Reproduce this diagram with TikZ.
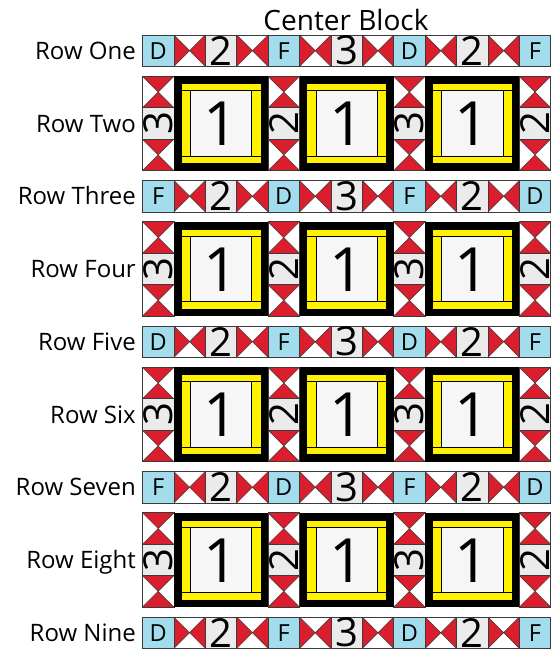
\documentclass[tikz,border=0pt]{standalone}
\usepackage{fontspec}
\setmainfont{Open Sans}
\usepackage{tikz}
\usetikzlibrary{positioning}
\definecolor{qblue}{HTML}{A3DCEC}
\definecolor{qred}{HTML}{DA1E2E}
\definecolor{qgray}{HTML}{EBEBEB}
\definecolor{qpale}{HTML}{F6F6F6}
\definecolor{qyellow}{HTML}{FFF200}
\definecolor{qline}{HTML}{3A3A3A}
\newcommand{\qcell}{31.4}

\tikzset{
  cellline/.style={draw=qline, line width=0.8pt},
  lettercell/.pic={
    \fill[qblue] (0,0) rectangle (\qcell,\qcell);
    \draw[cellline] (0,0) rectangle (\qcell,\qcell);
    \node[font=\fontsize{23.5}{24}\selectfont, inner sep=0pt] (-t) at (\qcell/2,\qcell/2) {#1};
  },
  hdigit/.pic={
    \filldraw[fill=qgray, cellline] (0,0) rectangle (\qcell,\qcell);
    \node[font=\fontsize{40}{40}\selectfont, inner sep=0pt] (-t) at (\qcell/2,\qcell/2) {#1};
  },
  vdigit/.pic={
    \filldraw[fill=qgray, cellline] (0,0) rectangle (\qcell,\qcell);
    \node[font=\fontsize{40}{40}\selectfont, inner sep=0pt, rotate=90] (-t) at (\qcell/2,\qcell/2) {#1};
  },
  hglass/.pic={
    \fill[white] (0,0) rectangle (\qcell,\qcell);
    \fill[qred] (0,0) -- (\qcell/2,\qcell/2) -- (0,\qcell) -- cycle;
    \fill[qred] (\qcell,0) -- (\qcell/2,\qcell/2) -- (\qcell,\qcell) -- cycle;
    \draw[cellline, line width=0.5pt] (0,0) -- (\qcell,\qcell) (0,\qcell) -- (\qcell,0);
    \draw[cellline] (0,0) rectangle (\qcell,\qcell);
  },
  vglass/.pic={
    \fill[white] (0,0) rectangle (\qcell,\qcell);
    \fill[qred] (0,0) -- (\qcell/2,\qcell/2) -- (\qcell,0) -- cycle;
    \fill[qred] (0,\qcell) -- (\qcell/2,\qcell/2) -- (\qcell,\qcell) -- cycle;
    \draw[cellline, line width=0.5pt] (0,0) -- (\qcell,\qcell) (0,\qcell) -- (\qcell,0);
    \draw[cellline] (0,0) rectangle (\qcell,\qcell);
  },
  centerblock/.pic={
    \fill[black] (0,0) rectangle (94.2,94.2);
    \filldraw[fill=qyellow, draw=black, line width=0.6pt] (7,7) rectangle (87.2,14.4);
    \filldraw[fill=qyellow, draw=black, line width=0.6pt] (7,79.8) rectangle (87.2,87.2);
    \filldraw[fill=qyellow, draw=black, line width=0.6pt] (7,14.4) rectangle (16.4,79.8);
    \filldraw[fill=qyellow, draw=black, line width=0.6pt] (77.8,14.4) rectangle (87.2,79.8);
    \filldraw[fill=qpale, draw=black, line width=0.6pt] (16.4,14.4) rectangle (77.8,79.8);
    \node[font=\fontsize{61}{61}\selectfont, inner sep=0pt] (-one) at (47.1,47.6) {1};
  }
}

\begin{document}
\begin{tikzpicture}[x=1pt, y=-1pt,
  title/.style={font=\fontsize{28}{28}\selectfont, inner sep=0pt},
  rowlabel/.style={font=\fontsize{24}{24}\selectfont, inner sep=0pt, anchor=base east}]

\useasboundingbox (0,0) rectangle (558,651);

\node[title, anchor=base] (title) at (346,30) {Center Block};

% pieced rows
\foreach \k/\la/\lb in {0/D/F,1/F/D,2/D/F,3/F/D,4/D/F} {
  \pgfmathsetmacro\ytop{35+145.5*\k}
  \foreach \c in {1,3,5,7,9,11}
    \pic (g\k-\c) at ({142.5+\qcell*\c},\ytop) {hglass};
  \foreach \c/\l in {0/\la,4/\lb,8/\la,12/\lb}
    \pic (l\k-\c) at ({142.5+\qcell*\c},\ytop) {lettercell=\l};
  \foreach \c/\d in {2/2,6/3,10/2}
    \pic (d\k-\c) at ({142.5+\qcell*\c},\ytop) {hdigit=\d};
}

% block rows
\foreach \k in {0,...,3} {
  \pgfmathsetmacro\ytop{35+\qcell+9.95+145.5*\k}
  \foreach \c/\d in {0/3,4/2,8/3,12/2} {
    \pic (ga\k-\c) at ({142.5+\qcell*\c},\ytop) {vglass};
    \pic (vd\k-\c) at ({142.5+\qcell*\c},{\ytop+\qcell}) {vdigit=\d};
    \pic (gb\k-\c) at ({142.5+\qcell*\c},{\ytop+2*\qcell}) {vglass};
  }
  \foreach \c in {1,5,9}
    \pic (b\k-\c) at ({142.5+\qcell*\c},\ytop) {centerblock};
}

% row labels
\foreach \n/\t/\y in {1/One/50.7,2/Two/123.45,3/Three/196.2,4/Four/268.95,5/Five/341.7,
  6/Six/414.45,7/Seven/487.2,8/Eight/559.95,9/Nine/632.7}
  \node[rowlabel] (row\n) at (136,{\y+8.6}) {Row \t};

\end{tikzpicture}
\end{document}
